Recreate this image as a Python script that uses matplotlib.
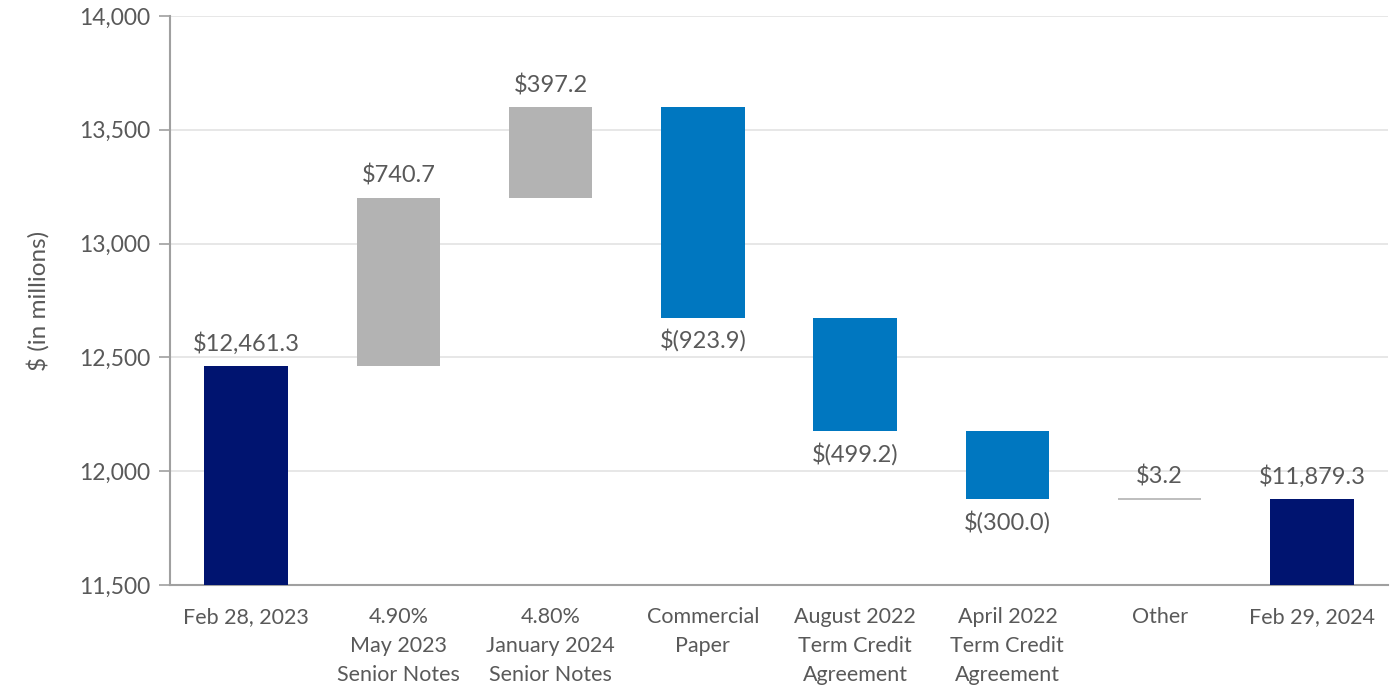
import matplotlib
matplotlib.use("Agg")
import matplotlib.pyplot as plt

categories = ["Feb 28, 2023", "4.90%\nMay 2023\nSenior Notes", "4.80%\nJanuary 2024\nSenior Notes",
              "Commercial\nPaper", "August 2022\nTerm Credit\nAgreement", "April 2022\nTerm Credit\nAgreement",
              "Other", "Feb 29, 2024"]
start_value = 12461.3
changes = [740.7, 397.2, -923.9, -499.2, -300.0, 3.2]
end_value = 11879.3
labels = ["$12,461.3", "$740.7", "$397.2", "$(923.9)", "$(499.2)", "$(300.0)", "$3.2", "$11,879.3"]

y_min, y_max = 11500, 14000
y_ticks = [11500, 12000, 12500, 13000, 13500, 14000]

NAVY = "#001470"
GRAY = "#B3B3B3"
BLUE = "#0077C0"
TEXT = "#595959"

plt.rcParams['font.family'] = ['Lato', 'DejaVu Sans']

fig = plt.figure(figsize=(14, 7), dpi=100)
ax = fig.add_axes([170/1400, 1-585/700, (1388-170)/1400, (585-16)/700])

width = 0.55
bottoms, heights, colors = [], [], []
bottoms.append(y_min); heights.append(start_value - y_min); colors.append(NAVY)
running = start_value
for ch in changes:
    if ch >= 0:
        bottoms.append(running); heights.append(ch)
        colors.append(GRAY)
    else:
        bottoms.append(running + ch); heights.append(-ch)
        colors.append(BLUE)
    running += ch
bottoms.append(y_min); heights.append(end_value - y_min); colors.append(NAVY)

xs = list(range(len(categories)))
for i, (b, h, c) in enumerate(zip(bottoms, heights, colors)):
    if i == 6:
        ax.bar(i, h, width=width, bottom=b, color=c, edgecolor=c, linewidth=1.2, zorder=3)
    else:
        ax.bar(i, h, width=width, bottom=b, color=c, linewidth=0, zorder=3)

vals = [start_value] + changes + [end_value]
for i, (b, h, v, lab) in enumerate(zip(bottoms, heights, vals, labels)):
    if v >= 0:
        ax.annotate(lab, (i, b + h), xytext=(0, 8), textcoords="offset points",
                    ha="center", va="bottom", fontsize=17, color=TEXT)
    else:
        ax.annotate(lab, (i, b), xytext=(0, -8), textcoords="offset points",
                    ha="center", va="top", fontsize=17, color=TEXT)

ax.set_xlim(-0.5, len(categories) - 0.5)
ax.set_ylim(y_min, y_max)
ax.set_yticks(y_ticks)
ax.set_yticklabels([f"{t:,}" for t in y_ticks])
ax.set_xticks(xs)
ax.set_xticklabels(categories, linespacing=1.55)
ax.tick_params(axis="x", length=0, pad=16, labelsize=15.5, colors=TEXT)
ax.tick_params(axis="y", length=8, width=1.2, color="#A0A0A0", pad=6, labelsize=16.5, labelcolor=TEXT)
ax.grid(axis="y", color="#E3E3E3", linewidth=1.2, zorder=0)
for s in ["top", "right"]:
    ax.spines[s].set_visible(False)
for s in ["left", "bottom"]:
    ax.spines[s].set_color("#A0A0A0")
    ax.spines[s].set_linewidth(1.5)
ax.set_ylabel("$ (in millions)", fontsize=17.5, color=TEXT)
ax.yaxis.set_label_coords(-(170 - 50) / 1218, 0.5)

fig.savefig("out.png", dpi=100, facecolor="white")
